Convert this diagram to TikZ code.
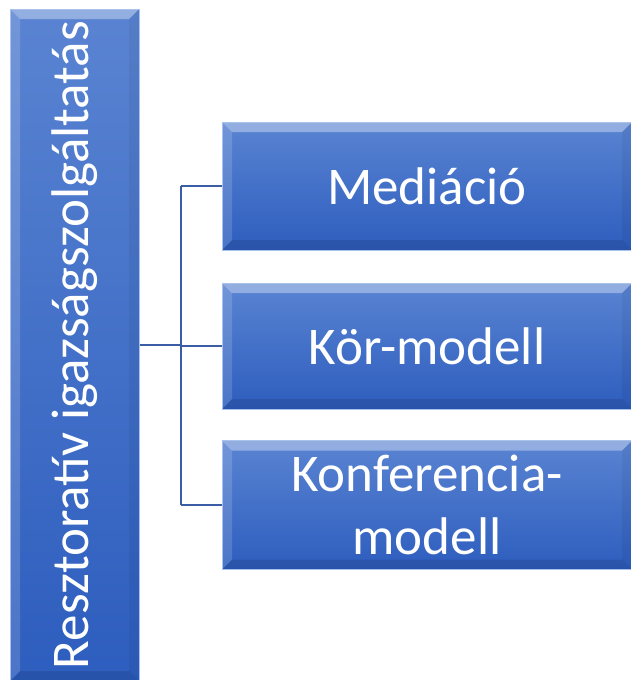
\documentclass[tikz,border=0pt]{standalone}
\usepackage{fontspec}
\setmainfont{Carlito}
\usepackage{tikz}
\definecolor{boxtop}{HTML}{5A84D2}
\definecolor{boxbot}{HTML}{2D5DBE}
\definecolor{boxedge}{HTML}{A9C2EC}
\definecolor{connblue}{HTML}{3A5DA6}
\tikzset{
  bevel/.style={path picture={
    \fill [white, opacity=.35] (path picture bounding box.north west)
      -- (path picture bounding box.north east)
      -- ([shift={(-10pt,-10pt)}]path picture bounding box.north east)
      -- ([shift={(10pt,-10pt)}]path picture bounding box.north west) -- cycle;
    \fill [white, opacity=.15] (path picture bounding box.north west)
      -- ([shift={(10pt,-10pt)}]path picture bounding box.north west)
      -- ([shift={(10pt,10pt)}]path picture bounding box.south west)
      -- (path picture bounding box.south west) -- cycle;
    \fill [black, opacity=.10] (path picture bounding box.south west)
      -- ([shift={(10pt,10pt)}]path picture bounding box.south west)
      -- ([shift={(-10pt,10pt)}]path picture bounding box.south east)
      -- (path picture bounding box.south east) -- cycle;
    \fill [black, opacity=.05] (path picture bounding box.north east)
      -- ([shift={(-10pt,-10pt)}]path picture bounding box.north east)
      -- ([shift={(-10pt,10pt)}]path picture bounding box.south east)
      -- (path picture bounding box.south east) -- cycle;}},
  bluebox/.style={rectangle, top color=boxtop, bottom color=boxbot, draw=boxedge,
    line width=1pt, bevel, text=white, align=center, inner sep=0pt,
    font=\fontsize{53}{63}\selectfont},
  boxtext/.style={text=white, font=\fontsize{53}{63}\selectfont, inner sep=0pt},
  conn/.style={draw=connblue, line width=2pt}
}
\begin{document}
\begin{tikzpicture}[x=1pt, y=-1pt]
        \useasboundingbox (0,0) rectangle (630,680);                  %
        \node [bluebox, minimum width=129, minimum height=672] (rig)
               at (74.5,345) {};                                       %root
        \node [boxtext, rotate=90] (rigtxt) at (rig.center)
               {Resztoratív igazságszolgáltatás};                       %
        \node [bluebox, minimum width=410, minimum height=128] (med)
               at (427,186) {Mediáció};                                %1
        \node [bluebox, minimum width=410, minimum height=126] (kor)
               at (427,346) {Kör-modell};                              %2
        \node [bluebox, minimum width=410, minimum height=129] (konf)
               at (427,505) {Konferencia-\\modell};                    %3
        \coordinate (jn) at (181,345);                                 %
        \draw [conn] (rig.east |- jn) -- (jn);                         %
        \draw [conn] (jn |- med.west) -- (jn |- konf.west);            %
        \draw [conn] (jn |- med.west) -- (med.west);                   %
        \draw [conn] (jn |- kor.west) -- (kor.west);                   %
        \draw [conn] (jn |- konf.west) -- (konf.west);                 %
\end{tikzpicture}
\end{document}
